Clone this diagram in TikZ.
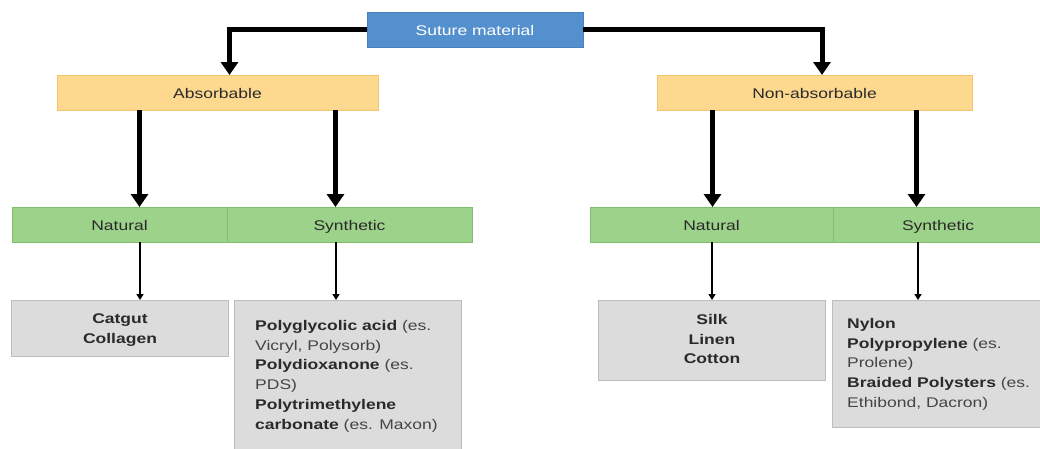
\documentclass[tikz,border=0pt]{standalone}
\usepackage{fontspec}
\setmainfont[FakeStretch=1.25]{Liberation Sans}
\usetikzlibrary{arrows.meta}
\definecolor{cblue}{HTML}{5590CE}
\definecolor{cblueb}{HTML}{4A80BC}
\definecolor{corange}{HTML}{FCD98F}
\definecolor{corangeb}{HTML}{F2C46E}
\definecolor{cgreen}{HTML}{9DD28A}
\definecolor{cgreenb}{HTML}{80C06B}
\definecolor{cgray}{HTML}{DCDCDC}
\definecolor{cgrayb}{HTML}{BDBDBD}
\definecolor{ctext}{HTML}{2A2A2A}
\definecolor{cregular}{HTML}{444444}
\tikzset{
  box/.style={anchor=north west, inner sep=0pt, outer sep=0pt, line width=0.8pt},
  topbox/.style={box, fill=cblue, draw=cblueb, text=white},
  midbox/.style={box, fill=corange, draw=corangeb, text=ctext},
  lowbox/.style={box, fill=cgreen, draw=cgreenb, text=ctext},
  leafbox/.style={box, fill=cgray, draw=cgrayb},
  lbl/.style={font=\fontsize{14}{16}\selectfont, text height=13pt, text depth=1.5pt},
  leaftext/.style={inner sep=0pt, text=ctext, font=\fontsize{14}{19.8}\selectfont},
  bigarrow/.style={line width=5pt, -{Triangle[width=17pt,length=13pt]}},
  smallarrow/.style={line width=2.2pt, -{Triangle[width=7pt,length=6pt]}},
}
\newcommand{\rg}[1]{\textcolor{cregular}{\normalfont\fontsize{14}{19.8}\selectfont #1}}
\begin{document}
\begin{tikzpicture}[x=1pt,y=-1pt]
\useasboundingbox[fill=white] (0,0) rectangle (1040,448);
% top
\node[topbox, lbl, minimum width=216pt, minimum height=35pt] (sm) at (367,12) {Suture material};
% second level
\node[midbox, lbl, minimum width=321pt, minimum height=35pt] (ab) at (57,75) {Absorbable};
\node[midbox, lbl, minimum width=315pt, minimum height=35pt] (na) at (657,75) {Non-absorbable};
% third level
\node[lowbox, lbl, minimum width=215pt, minimum height=35pt] (abn) at (12,207) {Natural};
\node[lowbox, lbl, minimum width=245pt, minimum height=35pt] (abs) at (227,207) {Synthetic};
\node[lowbox, lbl, minimum width=243pt, minimum height=35pt] (nan) at (590,207) {Natural};
\node[lowbox, lbl, minimum width=210pt, minimum height=35pt] (nas) at (833,207) {Synthetic};
% leaves
\node[leafbox, minimum width=217pt, minimum height=56pt] (l1) at (11,300) {};
\node[leafbox, minimum width=227pt, minimum height=150pt] (l2) at (234,300) {};
\node[leafbox, minimum width=227pt, minimum height=80pt] (l3) at (598,300) {};
\node[leafbox, minimum width=212pt, minimum height=127pt] (l4) at (832,300) {};
% leaf texts
\node[leaftext, anchor=north, align=center, font=\bfseries\fontsize{14}{19.8}\selectfont] (t1) at (120,314) {Catgut\\Collagen};
\node[leaftext, anchor=north west, align=left] (t2) at (255,320) {\textbf{Polyglycolic acid} \rg{(es.}\\\rg{Vicryl, Polysorb)}\\\textbf{Polydioxanone} \rg{(es.}\\\rg{PDS)}\\\textbf{Polytrimethylene}\\\textbf{carbonate} \rg{(es. Maxon)}};
\node[leaftext, anchor=north, align=center, font=\bfseries\fontsize{14}{19.8}\selectfont] (t3) at (712,314) {Silk\\Linen\\Cotton};
\node[leaftext, anchor=north west, align=left] (t4) at (847,318) {\textbf{Nylon}\\\textbf{Polypropylene} \rg{(es.}\\\rg{Prolene)}\\\textbf{Braided Polysters} \rg{(es.}\\\rg{Ethibond, Dacron)}};
% connectors
\draw[bigarrow] (sm.west) -| ([xshift=12pt]ab.north);
\draw[bigarrow] (sm.east) -| ([xshift=7.5pt]na.north);
\draw[bigarrow] ([xshift=-78pt]ab.south) -- ([xshift=-78pt]ab.south |- abn.north);
\draw[bigarrow] ([xshift=118pt]ab.south) -- ([xshift=118pt]ab.south |- abs.north);
\draw[bigarrow] ([xshift=-102pt]na.south) -- ([xshift=-102pt]na.south |- nan.north);
\draw[bigarrow] ([xshift=102pt]na.south) -- ([xshift=102pt]na.south |- nas.north);
\draw[smallarrow] ([xshift=20.5pt]abn.south) -- ([xshift=20.5pt]abn.south |- l1.north);
\draw[smallarrow] ([xshift=-13.5pt]abs.south) -- ([xshift=-13.5pt]abs.south |- l2.north);
\draw[smallarrow] ([xshift=0.5pt]nan.south) -- ([xshift=0.5pt]nan.south |- l3.north);
\draw[smallarrow] ([xshift=-20pt]nas.south) -- ([xshift=-20pt]nas.south |- l4.north);
\end{tikzpicture}
\end{document}
